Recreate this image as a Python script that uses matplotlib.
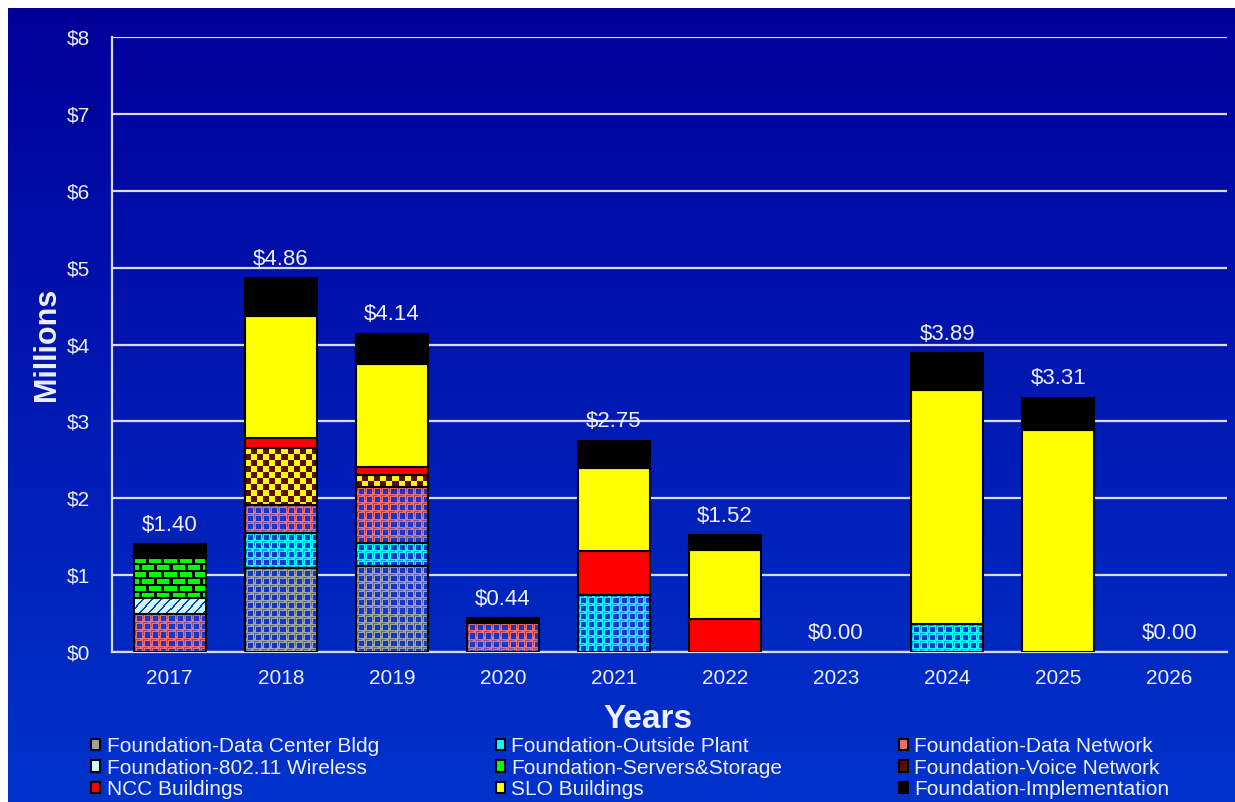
import numpy as np
import matplotlib
matplotlib.use('Agg')
import matplotlib.pyplot as plt
import matplotlib.colors as mcolors
from matplotlib.patches import Rectangle

plt.rcParams['font.family'] = ['Liberation Sans', 'DejaVu Sans']

years = ['2017', '2018', '2019', '2020', '2021', '2022', '2023', '2024', '2025', '2026']

# spending per year in $ millions, stacked bottom to top in this order
data_center = [0.00, 1.09, 1.12, 0.00, 0.00, 0.00, 0.00, 0.00, 0.00, 0.00]
outside_plant = [0.00, 0.46, 0.30, 0.00, 0.74, 0.00, 0.00, 0.36, 0.00, 0.00]
data_network = [0.50, 0.36, 0.73, 0.38, 0.00, 0.00, 0.00, 0.00, 0.00, 0.00]
wireless = [0.20, 0.00, 0.00, 0.00, 0.00, 0.00, 0.00, 0.00, 0.00, 0.00]
servers_storage = [0.52, 0.00, 0.00, 0.00, 0.00, 0.00, 0.00, 0.00, 0.00, 0.00]
voice_network = [0.00, 0.74, 0.15, 0.00, 0.00, 0.00, 0.00, 0.00, 0.00, 0.00]
ncc_buildings = [0.00, 0.14, 0.11, 0.00, 0.57, 0.43, 0.00, 0.00, 0.00, 0.00]
slo_buildings = [0.00, 1.58, 1.33, 0.00, 1.08, 0.90, 0.00, 3.05, 2.89, 0.00]
implementation = [0.18, 0.49, 0.40, 0.06, 0.36, 0.19, 0.00, 0.48, 0.42, 0.00]

series = [
    ('Foundation-Data Center Bldg', data_center, '#a0a0a0', 'sphere'),
    ('Foundation-Outside Plant', outside_plant, '#00ffff', 'sphere'),
    ('Foundation-Data Network', data_network, '#f26b6b', 'sphere'),
    ('Foundation-802.11 Wireless', wireless, '#ccffff', 'diag'),
    ('Foundation-Servers&Storage', servers_storage, '#00ff00', 'brick'),
    ('Foundation-Voice Network', voice_network, '#ffff00', 'checker'),
    ('NCC Buildings', ncc_buildings, '#ff0000', None),
    ('SLO Buildings', slo_buildings, '#ffff00', None),
    ('Foundation-Implementation', implementation, '#000000', None),
]

TXT = '#eef0ff'
BLUE = np.array(mcolors.to_rgb('#1638c8'))
MAROON = np.array(mcolors.to_rgb('#5c0a0a'))


def texture(kind, face, w, h):
    """Pixel texture for a bar segment of w x h pixels."""
    face = np.array(mcolors.to_rgb(face))
    yy, xx = np.mgrid[0:h, 0:w]
    img = np.empty((h, w, 3))
    img[:] = face
    if kind == 'sphere':
        tx, ty = xx % 8, yy % 8
        core = (tx >= 3) & (ty >= 3)
        ring = ((tx == 1) & (ty >= 1) & (ty <= 5)) | ((ty == 1) & (tx >= 1) & (tx <= 5))
        img[ring] = 0.5 * face + 0.5 * BLUE
        img[core] = BLUE
    elif kind == 'diag':
        img[(xx + yy) % 9 < 2] = BLUE
    elif kind == 'brick':
        row = yy % 7
        shift = np.where((yy // 7) % 2 == 0, 0, 7)
        col = (xx + shift) % 15
        img[(row >= 5) | (col >= 12)] = 0
    elif kind == 'checker':
        img[((xx // 6) + (yy // 6)) % 2 == 1] = MAROON
    return img


W, H = 1235, 802
fig = plt.figure(figsize=(W / 100, H / 100), dpi=100)
fig.patch.set_facecolor('white')

# gradient backdrop
bg = fig.add_axes([8 / W, 0, 1 - 8 / W, 1 - 8 / H], zorder=-5)
grad = np.linspace(0, 1, 256)[:, None, None]
top = np.array(mcolors.to_rgb('#000099'))
bottom = np.array(mcolors.to_rgb('#0033cc'))
bg.imshow(top + (bottom - top) * grad, aspect='auto', extent=(0, 1, 0, 1))
bg.set_axis_off()

ax = fig.add_axes([112 / W, (H - 652) / H, (1227 - 112) / W, (652 - 37) / H])
ax.set_facecolor('none')
ax.set_xlim(-0.52, 9.52)
ax.set_ylim(0, 8)

x = np.arange(len(years))
bottom_vals = np.zeros(len(years))
p0, p1 = ax.transData.transform([(0, 0), (1, 1)])
px_x, px_y = p1 - p0
for name, vals, color, kind in series:
    vals = np.array(vals)
    bars = ax.bar(x, vals, 0.65, bottom=bottom_vals, color=color,
                  edgecolor='black', linewidth=1.5, zorder=3, label=name)
    for rect, v in zip(bars, vals):
        if v <= 0:
            rect.set_visible(False)
        elif kind is not None:
            w = max(int(round(rect.get_width() * px_x)), 1)
            h = max(int(round(rect.get_height() * px_y)), 1)
            x0, y0 = rect.get_x(), rect.get_y()
            ax.imshow(texture(kind, color, w, h), aspect='auto', interpolation='nearest',
                      extent=(x0, x0 + rect.get_width(), y0, y0 + rect.get_height()),
                      zorder=2.5)
            rect.set_facecolor('none')
    bottom_vals += vals

for xi, total in zip(x, bottom_vals):
    ax.annotate('${:.2f}'.format(total), (xi, total), xytext=(0, 6),
                textcoords='offset points', ha='center', va='bottom',
                color=TXT, fontsize=16, zorder=4)

ax.set_xlim(-0.52, 9.52)
ax.set_ylim(0, 8)
ax.set_yticks(range(0, 9))
ax.set_yticklabels(['${}'.format(v) for v in range(0, 9)])
ax.set_xticks(x)
ax.set_xticklabels(years)
ax.tick_params(axis='y', length=0, pad=16, labelsize=15, labelcolor=TXT)
ax.tick_params(axis='x', length=0, pad=12, labelsize=15, labelcolor=TXT)
ax.grid(axis='y', color='#dcdcf0', linewidth=1.6)
ax.set_axisbelow(True)
for side in ['top', 'right']:
    ax.spines[side].set_visible(False)
for side in ['left', 'bottom']:
    ax.spines[side].set_color('#dcdcf0')
    ax.spines[side].set_linewidth(1.6)

ax.set_xlabel('Years', fontsize=24, fontweight='bold', color=TXT)
ax.set_ylabel('Millions', fontsize=22, fontweight='bold', color=TXT)
ax.yaxis.set_label_coords(-0.045, 0.5)
ax.xaxis.set_label_coords(0.481, -0.085)

# legend: rows are filled left to right
order = [0, 3, 6, 1, 4, 7, 2, 5, 8]
proxies = []
for name, vals, color, kind in series:
    fc = MAROON if kind == 'checker' else color
    proxies.append(Rectangle((0, 0), 1, 1, facecolor=fc, edgecolor='black', linewidth=1.5))
leg = fig.legend([proxies[i] for i in order], [series[i][0] for i in order],
                 ncol=3, loc='upper left', bbox_to_anchor=(91 / W, 1 - 737 / H),
                 frameon=False, fontsize=15, labelspacing=0.12, handlelength=0.45,
                 handleheight=0.45, handletextpad=0.3, columnspacing=5.6,
                 borderpad=0, borderaxespad=0)
for t in leg.get_texts():
    t.set_color(TXT)

fig.savefig('out.png', dpi=100, facecolor=fig.get_facecolor())
